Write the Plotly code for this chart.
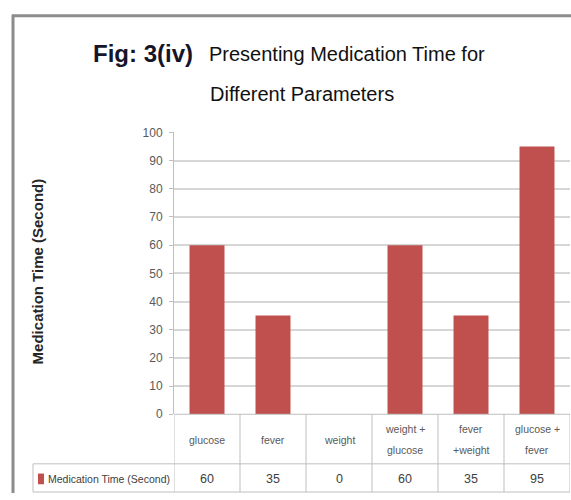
import plotly.graph_objects as go

categories = ["glucose", "fever", "weight", "weight +<br>glucose", "fever<br>+weight", "glucose +<br>fever"]
values = [60, 35, 0, 60, 35, 95]
series_name = "Medication Time (Second)"
y_ticks = list(range(0, 101, 10))

W, H = 571, 500
def px(x):
    return x / W
def py(y):
    return 1 - y / H

FONT = "Liberation Sans, Arial, sans-serif"
BAR = "#C0504D"
GRID = "#D6D6D6"
LINE = "#BFBFBF"

x_idx = list(range(len(categories)))

fig = go.Figure()
fig.add_trace(go.Bar(
    x=x_idx, y=values, name=series_name,
    marker=dict(color=BAR, line=dict(width=0)),
    width=0.53, showlegend=False, hoverinfo="skip",
))

fig.update_layout(
    width=W, height=H,
    margin=dict(l=0, r=0, t=0, b=0),
    paper_bgcolor="white", plot_bgcolor="white",
    xaxis=dict(domain=[px(174), px(570)], range=[-0.5, len(categories) - 0.5],
               showticklabels=False, showgrid=False, zeroline=False,
               showline=False, fixedrange=True),
    yaxis=dict(domain=[py(419), py(129)], range=[0, 100],
               tickvals=y_ticks, showgrid=True, gridcolor=GRID, gridwidth=1.5,
               zeroline=False, showline=True, linecolor=LINE, linewidth=1,
               ticks="outside", ticklen=4, tickcolor=LINE, ticklabelstandoff=4,
               tickfont=dict(family=FONT, size=12, color="#595959"),
               fixedrange=True),
)

ROW1 = 470   # line between category row and value row
ROWB = 499   # bottom line of table

shapes = []
# outer border
shapes.append(dict(type="line", xref="paper", yref="paper", x0=px(13), x1=px(13), y0=py(8), y1=0,
                   line=dict(color="#8C8C8C", width=3)))
shapes.append(dict(type="line", xref="paper", yref="paper", x0=px(12), x1=1, y0=py(9), y1=py(9),
                   line=dict(color="#8C8C8C", width=3)))
# table verticals at category boundaries
for i in range(len(categories) + 1):
    shapes.append(dict(type="line", xref="x", yref="paper", x0=i - 0.5, x1=i - 0.5,
                       y0=py(419), y1=py(ROWB), line=dict(color=LINE, width=1)))
# table horizontals
shapes.append(dict(type="line", xref="paper", yref="paper", x0=px(174), x1=px(570),
                   y0=py(419), y1=py(419), line=dict(color=LINE, width=1)))
shapes.append(dict(type="line", xref="paper", yref="paper", x0=px(33), x1=px(570),
                   y0=py(ROW1), y1=py(ROW1), line=dict(color=LINE, width=1)))
shapes.append(dict(type="line", xref="paper", yref="paper", x0=px(33), x1=px(570),
                   y0=py(ROWB), y1=py(ROWB), line=dict(color=LINE, width=1)))
shapes.append(dict(type="line", xref="paper", yref="paper", x0=px(33), x1=px(33),
                   y0=py(ROW1), y1=py(ROWB), line=dict(color=LINE, width=1)))
# legend key
shapes.append(dict(type="rect", xref="paper", yref="paper", x0=px(38), x1=px(44),
                   y0=py(491), y1=py(480), fillcolor=BAR, line=dict(width=0)))
fig.update_layout(shapes=shapes)

ann = []
for i, c in enumerate(categories):
    lines = c.split("<br>")
    offs = [0] if len(lines) == 1 else [-11, 11]
    for ln, o in zip(lines, offs):
        ann.append(dict(x=i, y=py(445 + o), xref="x", yref="paper", text=ln, showarrow=False,
                        xanchor="center", yanchor="middle",
                        font=dict(family=FONT, size=10.5, color="#595959")))
    ann.append(dict(x=i, y=py(486), xref="x", yref="paper", text=str(values[i]), showarrow=False,
                    xanchor="center", yanchor="middle",
                    font=dict(family=FONT, size=12.5, color="#404040")))
ann.append(dict(x=px(46), y=py(486), xref="paper", yref="paper", text=series_name, showarrow=False,
                xanchor="left", yanchor="middle",
                font=dict(family=FONT, size=10.5, color="#404040")))
# y axis title
ann.append(dict(x=px(37), y=py(272), xref="paper", yref="paper", text="<b>Medication Time (Second)</b>",
                showarrow=False, textangle=-90, xanchor="center", yanchor="middle",
                font=dict(family=FONT, size=15, color="#262626")))
# title
ann.append(dict(x=px(91), y=py(48), xref="paper", yref="paper", text="<b>Fig: 3(iv)</b>", showarrow=False,
                xanchor="left", yanchor="middle",
                font=dict(family=FONT, size=24, color="#15152a")))
ann.append(dict(x=px(207), y=py(48), xref="paper", yref="paper", text="Presenting Medication Time for",
                showarrow=False, xanchor="left", yanchor="middle",
                font=dict(family=FONT, size=20, color="#111111")))
ann.append(dict(x=px(208), y=py(89), xref="paper", yref="paper", text="Different Parameters",
                showarrow=False, xanchor="left", yanchor="middle",
                font=dict(family=FONT, size=20, color="#111111")))
fig.update_layout(annotations=ann)

post = (
    "document.documentElement.style.margin='0';"
    "document.body.style.margin='0';"
    "document.documentElement.style.overflow='hidden';"
    "document.body.style.overflow='hidden';"
    "var d=document.getElementById('{plot_id}');"
    "d.style.position='fixed';d.style.left='0px';d.style.top='0px';"
)
fig.write_html("out.html", post_script=post, config={"displayModeBar": False})
